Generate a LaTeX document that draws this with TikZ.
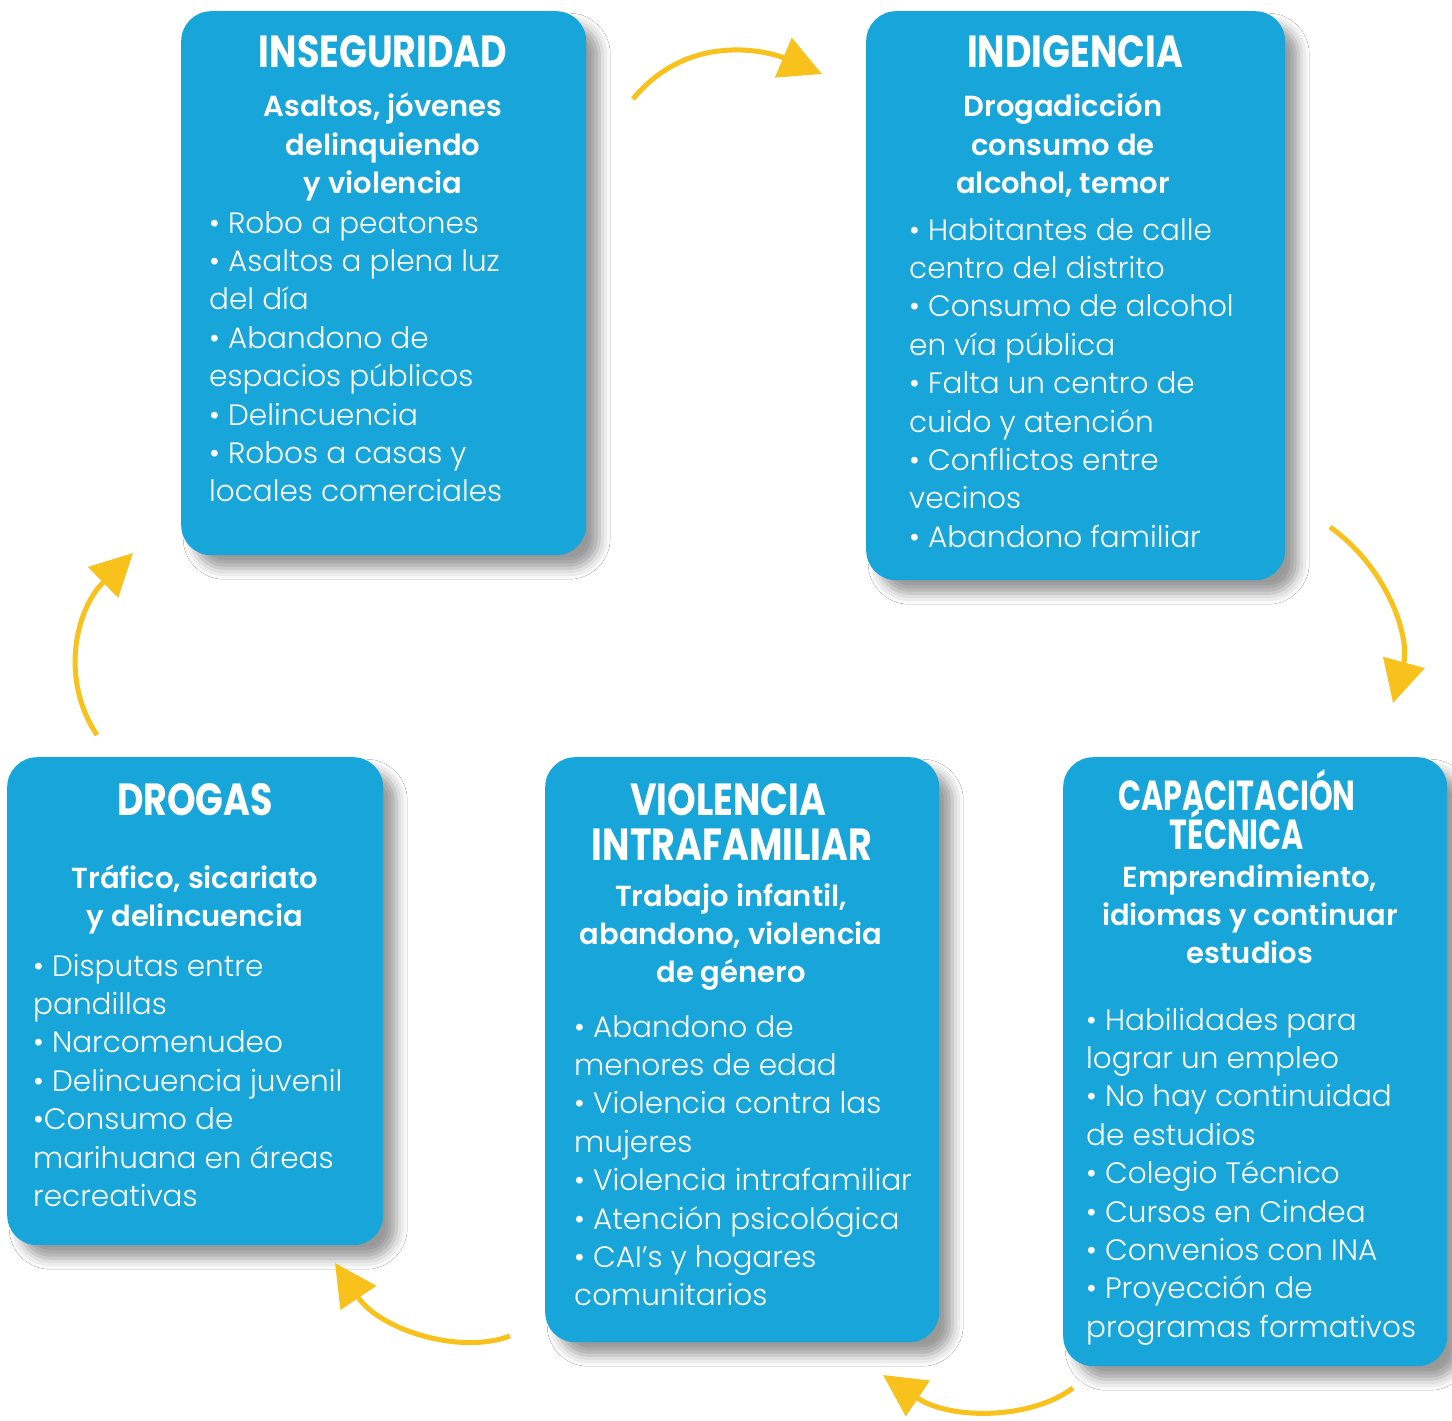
\documentclass[tikz,border=0pt]{standalone}
\usepackage{fontspec}
\setmainfont{Poppins}[UprightFont=* Light, BoldFont=* SemiBold]
\newfontfamily\titlef{Poppins}[UprightFont=* Bold, FakeStretch=0.81]
\newfontfamily\titlefb{Poppins}[UprightFont=* Bold, FakeStretch=0.72]
\usetikzlibrary{arrows.meta,shadows.blur}
\definecolor{boxblue}{HTML}{18A6DA}
\definecolor{arrowy}{HTML}{F8C11B}
\tikzset{
 card/.style={fill=boxblue, rounded corners=30pt, inner sep=0pt, anchor=north west,
   blur shadow={shadow xshift=13pt, shadow yshift=-13pt, shadow blur radius=11pt, shadow opacity=40}},
 ttl/.style={text=white, font=\titlef\fontsize{45}{45}\selectfont, inner sep=0pt, anchor=base},
 ttlb/.style={text=white, font=\titlefb\fontsize{42}{42}\selectfont, inner sep=0pt, anchor=base},
 sub/.style={text=white, font=\bfseries\fontsize{29}{38.4}\selectfont, inner sep=0pt, anchor=base},
 bul/.style={text=white, font=\fontsize{29.5}{38.4}\selectfont, inner sep=0pt, anchor=base west},
 cyc/.style={draw=arrowy, line width=5pt, -{Triangle[length=42pt,width=42pt]}},
}
\begin{document}
\begin{tikzpicture}[x=1pt,y=-1pt]
\fill[white] (0,0) rectangle (1452,1421);
\useasboundingbox (0,0) rectangle (1452,1421);
% cards
\node[card, minimum width=405pt, minimum height=544pt] (ins) at (181,11) {};
\node[card, minimum width=419pt, minimum height=569pt] (ind) at (866,11) {};
\node[card, minimum width=376pt, minimum height=488pt] (dro) at (7,757) {};
\node[card, minimum width=394pt, minimum height=585pt] (vio) at (545,757) {};
\node[card, minimum width=384pt, minimum height=609pt] (cap) at (1063,757) {};
% INSEGURIDAD
\node[ttl] (ins-t) at (383,67) {INSEGURIDAD};
\foreach \t [count=\i] in {{Asaltos, jóvenes},{delinquiendo},{y violencia}}
  \node[sub] (ins-s\i) at (383,{117+38.4*(\i-1)}) {\t};
\foreach \t [count=\i] in {{• Robo a peatones},{• Asaltos a plena luz},{del día},{• Abandono de},{espacios públicos},{• Delincuencia},{• Robos a casas y},{locales comerciales}}
  \node[bul] (ins-b\i) at (209,{233+38.4*(\i-1)}) {\t};
% INDIGENCIA
\node[ttl] (ind-t) at (1075,67) {INDIGENCIA};
\foreach \t [count=\i] in {{Drogadicción},{consumo de},{alcohol, temor}}
  \node[sub] (ind-s\i) at (1063,{117+38.4*(\i-1)}) {\t};
\foreach \t [count=\i] in {{• Habitantes de calle},{centro del distrito},{• Consumo de alcohol},{en vía pública},{• Falta un centro de},{cuido y atención},{• Conflictos entre},{vecinos},{• Abandono familiar}}
  \node[bul] (ind-b\i) at (909,{240+38.4*(\i-1)}) {\t};
% DROGAS
\node[ttl] (dro-t) at (195,815) {DROGAS};
\foreach \t [count=\i] in {{Tráfico, sicariato},{y delincuencia}}
  \node[sub] (dro-s\i) at (195,{888+38.4*(\i-1)}) {\t};
\foreach \t [count=\i] in {{• Disputas entre},{pandillas},{• Narcomenudeo},{• Delincuencia juvenil},{•Consumo de},{marihuana en áreas},{recreativas}}
  \node[bul] (dro-b\i) at (33,{976+38.4*(\i-1)}) {\t};
% VIOLENCIA
\node[ttl] (vio-t1) at (728,815) {VIOLENCIA};
\node[ttl] (vio-t2) at (732,860) {INTRAFAMILIAR};
\foreach \t [count=\i] in {{Trabajo infantil,},{abandono, violencia},{de género}}
  \node[sub] (vio-s\i) at (731,{906+38.4*(\i-1)}) {\t};
\foreach \t [count=\i] in {{• Abandono de},{menores de edad},{• Violencia contra las},{mujeres},{• Violencia intrafamiliar},{• Atención psicológica},{• CAI’s y hogares},{comunitarios}}
  \node[bul] (vio-b\i) at (574,{1037+38.4*(\i-1)}) {\t};
% CAPACITACION
\node[ttlb] (cap-t1) at (1237,810) {CAPACITACIÓN};
\node[ttlb] (cap-t2) at (1237,849) {TÉCNICA};
\foreach \t [count=\i] in {{Emprendimiento,},{idiomas y continuar},{estudios}}
  \node[sub] (cap-s\i) at (1250,{887+38.4*(\i-1)}) {\t};
\foreach \t [count=\i] in {{• Habilidades para},{lograr un empleo},{• No hay continuidad},{de estudios},{• Colegio Técnico},{• Cursos en Cindea},{• Convenios con INA},{• Proyección de},{programas formativos}}
  \node[bul] (cap-b\i) at (1086,{1030+38.4*(\i-1)}) {\t};
% cycle arrows
\coordinate (a1s) at (633,99);  \coordinate (a1e) at (822,74);
\coordinate (a2s) at (1330,527); \coordinate (a2e) at (1393,703);
\coordinate (a3s) at (1073,1388); \coordinate (a3e) at (883,1375);
\coordinate (a4s) at (510,1336); \coordinate (a4e) at (335,1263);
\coordinate (a5s) at (97,735);  \coordinate (a5e) at (133,553);
\draw[cyc] (a1s) .. controls (690,30) and (770,52) .. (a1e);
\draw[cyc] (a2s) .. controls (1390,570) and (1410,640) .. (a2e);
\draw[cyc] (a3s) .. controls (1030,1420) and (950,1420) .. (a3e);
\draw[cyc] (a4s) .. controls (460,1355) and (380,1330) .. (a4e);
\draw[cyc] (a5s) .. controls (60,680) and (75,610) .. (a5e);
\end{tikzpicture}
\end{document}
